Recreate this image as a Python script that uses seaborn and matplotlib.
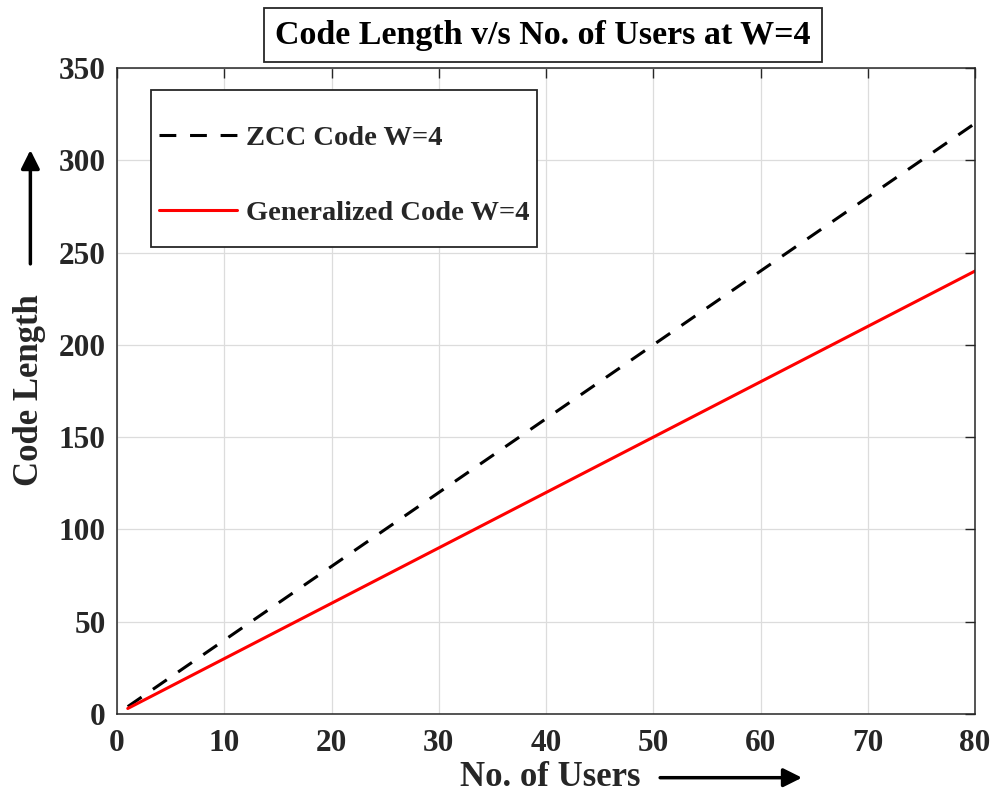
import matplotlib
matplotlib.use("Agg")
import matplotlib.pyplot as plt
from matplotlib.patches import Rectangle
import seaborn as sns
import pandas as pd

# Data
users = [1, 10, 20, 30, 40, 50, 60, 70, 80]
zcc_len = [4, 40, 80, 120, 160, 200, 240, 280, 320]
gen_len = [3, 30, 60, 90, 120, 150, 180, 210, 240]
x_ticks = [0, 10, 20, 30, 40, 50, 60, 70, 80]
y_ticks = [0, 50, 100, 150, 200, 250, 300, 350]

sns.set_theme(style="whitegrid")
plt.rcParams['font.family'] = ['Liberation Serif', 'DejaVu Serif']
plt.rcParams['font.weight'] = 'bold'

df = pd.concat([
    pd.DataFrame({"users": users, "len": zcc_len, "series": "ZCC Code W=4"}),
    pd.DataFrame({"users": users, "len": gen_len, "series": "Generalized Code W=4"}),
])

fig = plt.figure(figsize=(9.96, 7.96), dpi=100)
ax = fig.add_axes([0.1175, 0.103, 0.8615, 0.8116])

sns.lineplot(data=df, x="users", y="len", hue="series", style="series",
             palette={"ZCC Code W=4": "black", "Generalized Code W=4": "#ff0000"},
             dashes={"ZCC Code W=4": (5.5, 4.5), "Generalized Code W=4": ""},
             linewidth=2.2, ax=ax)

ax.set_xlim(0, 80)
ax.set_ylim(0, 350)
ax.set_xticks(x_ticks)
ax.set_yticks(y_ticks)
ax.tick_params(axis='both', which='both', direction='in', length=7, width=1,
               top=True, right=True, labelsize=22.5, colors='#262626')
ax.tick_params(axis='x', pad=11)
ax.tick_params(axis='y', pad=8)
for lbl in ax.get_xticklabels() + ax.get_yticklabels():
    lbl.set_fontweight('bold')
ax.grid(True, color='#dcdcdc', linewidth=0.9)
for s in ax.spines.values():
    s.set_color('#262626')
    s.set_linewidth(1.1)
ax.set_facecolor('white')
ax.set_xlabel('')
ax.set_ylabel('')

# axis labels with arrows
fig.text(0.643, 0.023, 'No. of Users', fontsize=25, fontweight='bold', ha='right', va='center', color='#262626')
ax.annotate('', xy=(0.808, 0.023), xytext=(0.66, 0.023), xycoords='figure fraction',
            arrowprops=dict(arrowstyle='-|>', color='black', lw=2.5, mutation_scale=28))
fig.text(0.03, 0.51, 'Code Length', fontsize=25, fontweight='bold', rotation=90,
         ha='center', va='center', color='#262626')
ax.annotate('', xy=(0.0305, 0.815), xytext=(0.0305, 0.665), xycoords='figure fraction',
            arrowprops=dict(arrowstyle='-|>', color='black', lw=2.5, mutation_scale=28))

# title in a box
fig.text(0.545, 0.956, 'Code Length v/s No. of Users at W=4', fontsize=24.5, fontweight='bold',
         ha='center', va='center', color='black',
         bbox=dict(boxstyle='square,pad=0.33', fc='white', ec='#262626', lw=1.3))

# legend box
ax.add_patch(Rectangle((0.0396, 0.723), 0.45, 0.243, transform=ax.transAxes,
                       fc='white', ec='#262626', lw=1.3, zorder=4))
leg = ax.legend(loc='upper left', bbox_to_anchor=(0.032, 0.934), fontsize=20.5,
                handlelength=2.75, labelspacing=1.72, borderpad=0, handletextpad=0.3,
                frameon=False)
leg.set_zorder(5)
for t in leg.get_texts():
    t.set_fontweight('bold')
    t.set_color('#262626')

fig.savefig('out.png', dpi=100, facecolor='white')
